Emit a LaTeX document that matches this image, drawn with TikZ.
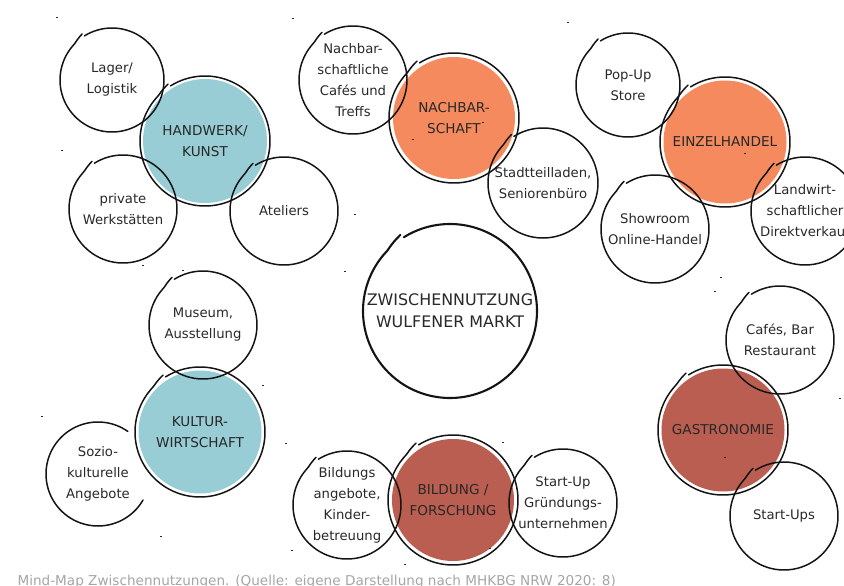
\documentclass[tikz,border=0pt]{standalone}
\usepackage{fontspec}
\setmainfont{DejaVu Sans}
\usepackage{tikz}
\usetikzlibrary{positioning}
\usepackage{xcolor}
\definecolor{inktext}{RGB}{40,40,40}
\definecolor{softteal}{RGB}{153,205,214}
\definecolor{softorange}{RGB}{245,138,94}
\definecolor{rustred}{RGB}{185,94,80}
\definecolor{captiongray}{RGB}{165,165,165}

\tikzset{
  bubble/.style={circle, inner sep=0pt, align=center, text=inktext, font=\fontsize{13.2}{21}\selectfont},
  topic/.style={bubble, font=\fontsize{13.6}{21}\selectfont},
  pen/.style={line width=1.5pt, black!92, line cap=round, line join=round},
}

\begin{document}
\begin{tikzpicture}[x=1pt, y=-1pt]
  \useasboundingbox (0,0) rectangle (844,586);
  \clip (0,0) rectangle (844,586);
  % coloured topics
  \node[topic, fill=softteal, minimum size=124] (handwerk) at (205,141) {HANDWERK/\\KUNST};
  \node[topic, fill=softorange, minimum size=122] (nachbar) at (454,118) {NACHBAR-\\SCHAFT};
  \node[topic, fill=softorange, minimum size=123] (einzel) at (725,142) {EINZELHANDEL};
  \node[topic, fill=softteal, minimum size=123] (kultur) at (200,432) {KULTUR-\\WIRTSCHAFT};
  \node[topic, fill=rustred, minimum size=122] (bildung) at (453,500) {BILDUNG /\\FORSCHUNG};
  \node[topic, fill=rustred, minimum size=123] (gastro) at (723,430) {GASTRONOMIE};
  % centre
  \node[bubble, font=\fontsize{15.9}{22}\selectfont] (zentrum) at (450,311) {ZWISCHENNUTZUNG\\WULFENER MARKT};
  % white bubbles
  \node[bubble] (lager) at (112,80) {Lager/\\Logistik};
  \node[bubble] (werkstatt) at (123,209) {private\\Werkstätten};
  \node[bubble] (ateliers) at (284,211) {Ateliers};
  \node[bubble] (treffs) at (353,80) {Nachbar-\\schaftliche\\Cafés und\\Treffs};
  \node[bubble] (stadtteil) at (543,183) {Stadtteilladen,\\Seniorenbüro};
  \node[bubble] (popup) at (628,85) {Pop-Up\\Store};
  \node[bubble] (showroom) at (655,229) {Showroom\\Online-Handel};
  \node[bubble] (landwirt) at (805,211) {Landwirt-\\schaftlicher\\Direktverkauf};
  \node[bubble] (museum) at (203,325) {Museum,\\Ausstellung};
  \node[bubble] (sozio) at (98,474) {Sozio-\\kulturelle\\Angebote};
  \node[bubble] (angebote) at (347,505) {Bildungs\\angebote,\\Kinder-\\betreuung};
  \node[bubble] (gruendung) at (563,503) {Start-Up\\Gründungs-\\unternehmen};
  \node[bubble] (cafes) at (780,340) {Cafés, Bar\\Restaurant};
  \node[bubble] (startups) at (784,516) {Start-Ups};

  % hand drawn outlines, the stroke overshoots where it started
  \foreach \n/\r in {lager/52, handwerk/65, werkstatt/54, ateliers/54, treffs/54, nachbar/65,
      stadtteil/55, popup/52, einzel/65, showroom/54, landwirt/54, museum/54, kultur/65,
      angebote/54, bildung/65, gruendung/54, cafes/54, gastro/65, startups/54}
    \draw[pen, shift={(\n.center)}] plot[smooth, domain=238:597, samples=90] (\x:{\r+max(0,\x-584)*0.22});
  \draw[pen, line width=2.1pt, shift={(zentrum.center)}] plot[smooth, domain=238:597, samples=110] (\x:{87+max(0,\x-584)*0.3});
  \draw[pen, shift={(sozio.center)+(0,3)}] plot[smooth, domain=30:305, samples=70] (\x:52);

  % stray pen marks
  \foreach \x/\y in {57/18, 293/19, 568/23, 62/150, 355/214, 143/265, 183/270, 345/271, 721/277,
      715/291, 263/385, 42/416, 286/443, 503/442, 840/398, 725/457, 483/122, 413/139, 745/153,
      161/536, 292/550, 490/548, 405/564}
    \fill[inktext] (\x-1.2,\y-0.5) rectangle ++(2.4,1);

  \node[anchor=base west, text=captiongray, font=\fontsize{13.6}{15}\selectfont] (caption) at (14,585)
    {Mind-Map Zwischennutzungen. (Quelle: eigene Darstellung nach MHKBG NRW 2020: 8)};
\end{tikzpicture}
\end{document}
